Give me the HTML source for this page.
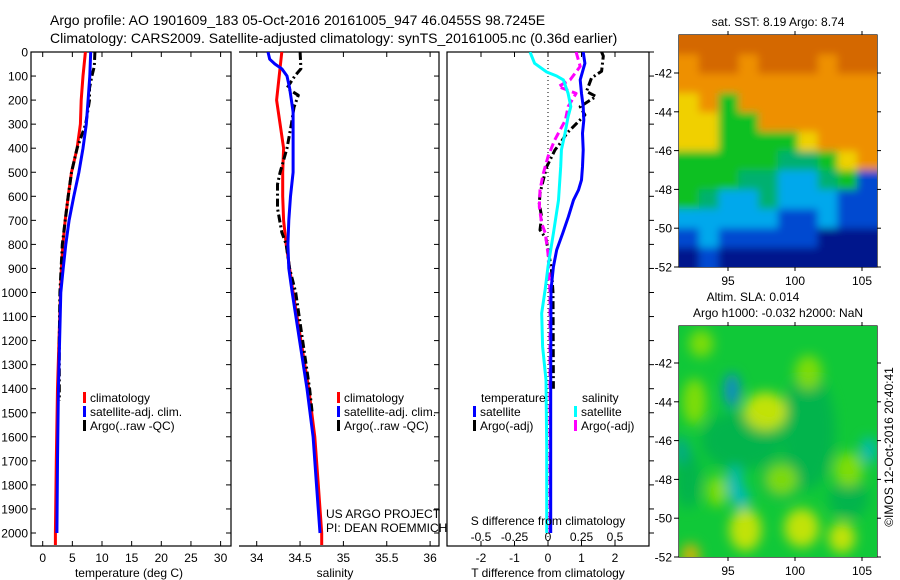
<!DOCTYPE html>
<html><head><meta charset="utf-8">
<style>
html,body{margin:0;padding:0;background:#fff;}
svg{display:block;font-family:"Liberation Sans",sans-serif;}
text{fill:#000;}
</style></head>
<body>
<svg id="fig" width="900" height="580" viewBox="0 0 900 580" xmlns="http://www.w3.org/2000/svg">
<defs>
<filter id="blur1" x="-10%" y="-10%" width="120%" height="120%"><feGaussianBlur stdDeviation="4"/></filter>
<filter id="blur2" x="-30%" y="-30%" width="160%" height="160%"><feGaussianBlur stdDeviation="6"/></filter>
<clipPath id="clipM1"><rect x="679" y="35" width="198" height="232"/></clipPath>
<clipPath id="clipM2"><rect x="679" y="326" width="198" height="231"/></clipPath>
<clipPath id="clipP1"><rect x="31" y="52" width="200" height="494"/></clipPath>
<clipPath id="clipP2"><rect x="239" y="52" width="200" height="494"/></clipPath>
<clipPath id="clipP3"><rect x="447" y="52" width="202" height="494"/></clipPath>
</defs>
<text x="50" y="25" font-size="14">Argo profile: AO 1901609_183 05-Oct-2016 20161005_947 46.0455S 98.7245E</text>
<text x="50" y="43" font-size="14">Climatology: CARS2009. Satellite-adjusted climatology: synTS_20161005.nc (0.36d earlier)</text>
<g id="axes"></g>
<g id="p1" clip-path="url(#clipP1)"></g>
<g id="p2" clip-path="url(#clipP2)"></g>
<g id="p3" clip-path="url(#clipP3)"></g>
<g id="m1" clip-path="url(#clipM1)"></g>
<g id="m2" clip-path="url(#clipM2)"></g>
<g id="labels"></g>
</svg>
<script>
// ---------------- data ----------------
const depthTicks=[0,100,200,300,400,500,600,700,800,900,1000,1100,1200,1300,1400,1500,1600,1700,1800,1900,2000];
const tempTicks=[0,5,10,15,20,25,30];
const salTicks=[34,34.5,35,35.5,36];
const tdiffTicks=[-2,-1,0,1,2];
const sdiffTicks=[-0.5,-0.25,0,0.25,0.5];
const latTicks=[-42,-44,-46,-48,-50,-52];
const lonTicks=[95,100,105];

const tClimDepth=[0,100,200,300,400,500,600,700,800,900,1000,1400,1700,2000,2050];
const tClim=[7.2,6.8,6.5,6.35,5.8,4.85,4.3,3.8,3.4,3.15,3.0,2.5,2.3,2.15,2.15];
const tSatDepth=[0,100,200,300,400,500,600,700,800,900,1000,1400,1700,2000];
const tSat=[8.1,7.95,7.65,7.35,6.8,6.1,5.25,4.45,3.9,3.45,3.05,2.65,2.5,2.4];
const tArgoDepth=[0,60,100,150,200,300,400,500,600,700,800,900,1000,1200,1450];
const tArgo=[8.8,8.7,8.3,7.9,7.9,7.25,5.8,4.85,4.3,3.8,3.3,3.1,2.9,2.8,2.8];

const sClimDepth=[0,100,200,300,400,500,600,700,800,900,1000,1400,1600,1800,2000,2050];
const sClim=[34.29,34.26,34.23,34.27,34.31,34.30,34.30,34.31,34.34,34.38,34.42,34.60,34.67,34.71,34.75,34.75];
const sSatDepth=[0,30,50,70,100,150,200,250,300,500,600,700,800,900,1000,1400,1600,1800,2000];
const sSat=[34.13,34.15,34.21,34.29,34.35,34.38,34.40,34.42,34.42,34.42,34.39,34.37,34.36,34.37,34.41,34.58,34.65,34.69,34.73];
const sArgoDepth=[0,70,100,150,180,230,300,400,450,500,550,650,750,800,900,1000,1400,1500];
const sArgo=[34.50,34.51,34.44,34.35,34.48,34.43,34.40,34.35,34.31,34.27,34.24,34.24,34.29,34.34,34.38,34.45,34.61,34.64];

const tdSatDepth=[0,47,116,172,227,283,338,407,477,532,574,616,685,754,823,893,989,1400,2000];
const tdSat=[1.05,1.10,0.96,1.0,1.05,1.07,1.03,1.05,1.03,1.0,0.91,0.76,0.61,0.44,0.26,0.16,0.09,0.08,0.08];
const tdArgoDepth=[0,17,80,108,164,185,227,262,296,338,380,407,477,532,588,630,685,740,775,900,1000,1400];
const tdArgo=[1.6,1.65,1.6,1.3,1.15,1.43,0.96,1.1,0.86,0.56,0.36,0.21,-0.04,-0.14,-0.24,-0.26,-0.19,-0.24,-0.06,0.1,0.15,0.16];
const sdSatDepth=[0,47,83,100,116,172,227,269,338,407,477,616,754,893,989,1086,1225,1364,1641,2000];
const sdSat=[-0.134,-0.10,-0.01,0.065,0.115,0.15,0.17,0.15,0.127,0.10,0.095,0.078,0.04,0.0,-0.022,-0.047,-0.04,-0.015,-0.01,-0.01];
const sdArgoDepth=[0,60,116,144,172,227,283,366,435,505,574,643,713,754,838,1000,1500,2000];
const sdArgo=[0.21,0.24,0.165,0.077,0.21,0.15,0.13,0.05,0.0,-0.035,-0.06,-0.065,-0.047,-0.02,0.0,0.015,0.015,0.015];

// SST map rows (top to bottom) color codes
const sstRows=["DDDDDDDDDD","ODDODDDODD","OOOOOOOOOO","YOGOOOOOOO","YYGGOOOOOO","YYGGGGYOOO","GGGGGTTGYO","GGGTTCCTGB","GTCCTCCCBB","CCCCCBBCBB","BCBBBBBNNN","NBNNNNNNNN"];
// SLA blobs: lon, lat, radius-lon, radius-lat, code
const slaLon=[97.8,92.5,96.3,100.5,103.5,92.2,94.2,104,101,99,95.3,95.5,105.5,91.5,96,93];
const slaLat=[-44.5,-44,-50.6,-50.5,-51,-51.9,-48.6,-47.5,-42.5,-48,-43.4,-48.2,-46.5,-46.5,-49,-41];
const slaRx=[1.6,0.9,1.2,1.3,1.0,0.7,0.8,1.1,1.0,1.2,0.6,0.6,0.6,0.6,0.6,0.9];
const slaRy=[1.0,1.2,1.1,1.0,0.8,0.6,0.8,0.9,0.9,0.8,0.9,0.9,0.7,0.7,0.6,0.7];
const slaCode=["Y","L","Y","Y","Y","O","L","L","L","L","B","C","C","T","C","L"];

// ---------------- scales ----------------
const yD=d=>52+d*0.2405;
const p1x=t=>42.7+t*5.93;
const p2x=s=>256.7+(s-34)*86.7;
const p3x=t=>548+t*33.5;
const p3s=s=>548+s*4*33.5;
const m1x=lon=>728+(lon-95)*13.4;
const m1y=lat=>73+(-42-lat)*19.4;
const m2y=lat=>363+(-42-lat)*19.4;

const NS="http://www.w3.org/2000/svg";
function mk(tag,parent,attrs){const e=document.createElementNS(NS,tag);for(const k in attrs)e.setAttribute(k,attrs[k]);parent.appendChild(e);return e;}
function txt(parent,x,y,s,size,anchor){const e=mk('text',parent,{x:x,y:y,'font-size':size||12,'text-anchor':anchor||'start'});e.textContent=s;return e;}
const axes=document.getElementById('axes');
const labels=document.getElementById('labels');

let f;
f=mk('rect',axes,{x:31,y:52,width:200,height:494,fill:'none',stroke:'#000','stroke-width':1.2});


f=mk('path',axes,{d:'M239,52 H439 V546 H239',fill:'none',stroke:'#000','stroke-width':1.2});


f=mk('rect',axes,{x:447,y:52,width:202,height:494,fill:'none',stroke:'#000','stroke-width':1.2});



depthTicks.forEach(d=>{
  const y=yD(d);
  let l=txt(axes,28,y+4.5,String(d),12,'end');
  
  
  mk('line',axes,{x1:31,x2:36,y1:y,y2:y,stroke:'#000'});
  mk('line',axes,{x1:226,x2:231,y1:y,y2:y,stroke:'#000'});
  mk('line',axes,{x1:434,x2:439,y1:y,y2:y,stroke:'#000'});
  mk('line',axes,{x1:649,x2:654,y1:y,y2:y,stroke:'#000'});
});
tempTicks.forEach(t=>{
  const x=p1x(t);
  mk('line',axes,{x1:x,x2:x,y1:52,y2:57,stroke:'#000'});
  mk('line',axes,{x1:x,x2:x,y1:541,y2:546,stroke:'#000'});
  let l=txt(axes,x,562,String(t),12,'middle');
  
  
});
salTicks.forEach(s=>{
  const x=p2x(s);
  mk('line',axes,{x1:x,x2:x,y1:52,y2:57,stroke:'#000'});
  mk('line',axes,{x1:x,x2:x,y1:541,y2:546,stroke:'#000'});
  let l=txt(axes,x,562,String(s),12,'middle');
  
  
});
tdiffTicks.forEach(t=>{
  const x=p3x(t);
  mk('line',axes,{x1:x,x2:x,y1:52,y2:57,stroke:'#000'});
  mk('line',axes,{x1:x,x2:x,y1:541,y2:546,stroke:'#000'});
  let l=txt(axes,x,562,String(t),12,'middle');
  
  
});
sdiffTicks.forEach(s=>{
  let l=txt(axes,p3s(s),541,String(s),12,'middle');
  
  
});
let t;
t=txt(labels,129,577,'temperature (deg C)',12,'middle');


t=txt(labels,335,577,'salinity',12,'middle');


t=txt(labels,548,577,'T difference from climatology',12,'middle');


t=txt(labels,548,525,'S difference from climatology',12,'middle');


t=txt(labels,326,518,'US ARGO PROJECT',12);


t=txt(labels,326,532,'PI: DEAN ROEMMICH',12);



f=mk('line',axes,{x1:548,x2:548,y1:52,y2:546,stroke:'#000','stroke-dasharray':'1,3'});



function series(g,xs,ds,fx,color,dash,name){
  const pts=xs.map((v,i)=>fx(v).toFixed(1)+','+yD(ds[i]).toFixed(1)).join(' ');
  const p=mk('polyline',g,{points:pts,fill:'none',stroke:color,'stroke-width':3,'stroke-linejoin':'round'});
  if(dash)p.setAttribute('stroke-dasharray',dash);
  
  
}
const p1=document.getElementById('p1'),p2=document.getElementById('p2'),p3=document.getElementById('p3');
series(p1,tClim,tClimDepth,p1x,'#ff0000',null,'temperature-climatology-line');
series(p1,tArgo,tArgoDepth,p1x,'#000000','8,3,2,3','temperature-argo-line');
series(p1,tSat,tSatDepth,p1x,'#0000ff',null,'temperature-satellite-line');
series(p2,sClim,sClimDepth,p2x,'#ff0000',null,'salinity-climatology-line');
series(p2,sArgo,sArgoDepth,p2x,'#000000','8,3,2,3','salinity-argo-line');
series(p2,sSat,sSatDepth,p2x,'#0000ff',null,'salinity-satellite-line');
series(p3,tdArgo,tdArgoDepth,p3x,'#000000','8,3,2,3','t-difference-argo-line');
series(p3,sdArgo,sdArgoDepth,p3s,'#ff00ff','8,4','s-difference-argo-line');
series(p3,sdSat,sdSatDepth,p3s,'#00ffff',null,'s-difference-satellite-line');
series(p3,tdSat,tdSatDepth,p3x,'#0000ff',null,'t-difference-satellite-line');

function legItem(x,y,color,label,name){
  const g=mk('g',labels,{});
  
  
  mk('rect',g,{x:x,y:y-10,width:3,height:11,fill:color});
  txt(g,x+7,y,label,12);
}
legItem(83,402,'#ff0000','climatology','legend-climatology');
legItem(83,416,'#0000ff','satellite-adj. clim.','legend-satellite-adj');
legItem(83,430,'#000000','Argo(..raw -QC)','legend-argo');
legItem(337,402,'#ff0000','climatology','legend-climatology-2');
legItem(337,416,'#0000ff','satellite-adj. clim.','legend-satellite-adj-2');
legItem(337,430,'#000000','Argo(..raw -QC)','legend-argo-2');
t=txt(labels,481,402,'temperature',12);


t=txt(labels,582,402,'salinity',12);


legItem(473,416,'#0000ff','satellite','legend-t-satellite');
legItem(473,430,'#000000','Argo(-adj)','legend-t-argo');
legItem(574,416,'#00ffff','satellite','legend-s-satellite');
legItem(574,430,'#ff00ff','Argo(-adj)','legend-s-argo');

// ---------------- maps ----------------
const sstColor={D:'#d46800',O:'#ee9000',Y:'#f0d000',G:'#10c020',T:'#00b070',C:'#00a8ec',B:'#0048d0',N:'#00188c'};
const m1=document.getElementById('m1');
const gs=mk('g',m1,{filter:'url(#blur1)'});


mk('rect',gs,{x:670,y:25,width:220,height:255,fill:'#ee9000'});
const cw=198/10,ch=232/12;
sstRows.forEach((row,r)=>{
  [...row].forEach((c,k)=>{
    const cell=mk('rect',gs,{x:(679+k*cw-(k==0?10:0)).toFixed(1),y:(35+r*ch-(r==0?10:0)).toFixed(1),width:(cw+1+(k==0||k==9?10:0)).toFixed(1),height:(ch+1+(r==0||r==11?10:0)).toFixed(1),fill:sstColor[c]});
    
    
  });
});
const slaColor={Y:'#e0e800',L:'#90e000',O:'#f0b000',B:'#1080e0',C:'#00b8c8',T:'#00a890'};
const m2=document.getElementById('m2');
const g2=mk('g',m2,{});


mk('rect',g2,{x:679,y:326,width:198,height:231,fill:'#10c838'});
const gb=mk('g',g2,{filter:'url(#blur2)','fill-opacity':0.85});
[[96,-46,3,1.5],[101,-45.5,2,3],[99,-48,1.5,1],[92,-48,1,1.5],[104,-49,1.5,1]].forEach(b=>{
  mk('ellipse',gb,{cx:m1x(b[0]),cy:m2y(b[1]),rx:b[2]*13.4,ry:b[3]*19.4,fill:'#00b050'});
});
slaLon.forEach((lon,i)=>{
  const e=mk('ellipse',gb,{cx:m1x(lon).toFixed(1),cy:m2y(slaLat[i]).toFixed(1),rx:(slaRx[i]*13.4).toFixed(1),ry:(slaRy[i]*19.4).toFixed(1),fill:slaColor[slaCode[i]]});
  
  
});

[[35,m1y,'sst'],[326,m2y,'sla']].forEach(([top,fy,nm])=>{
  const h=nm==='sst'?232:231;
  const fr=mk('rect',axes,{x:679,y:top,width:198,height:h,fill:'none',stroke:'#000','stroke-width':1.2});
  
  
  latTicks.forEach(l=>{
    const y=fy(l);
    mk('line',axes,{x1:674,x2:679,y1:y,y2:y,stroke:'#000'});
    mk('line',axes,{x1:877,x2:881,y1:y,y2:y,stroke:'#000'});
    const tl=txt(axes,672,y+4.5,String(l),12,'end');
    
    
  });
  lonTicks.forEach(l=>{
    const x=m1x(l);
    mk('line',axes,{x1:x,x2:x,y1:top-4,y2:top,stroke:'#000'});
    mk('line',axes,{x1:x,x2:x,y1:top+h,y2:top+h+4,stroke:'#000'});
    const tl=txt(axes,x,top+h+18,String(l),12,'middle');
    
    
  });
});
t=txt(labels,778,26,'sat. SST: 8.19 Argo: 8.74',12,'middle');


t=txt(labels,753,301,'Altim. SLA: 0.014',12,'middle');


t=txt(labels,778,317,'Argo h1000: -0.032 h2000: NaN',12,'middle');


t=txt(labels,0,0,'©IMOS 12-Oct-2016 20:40:41',12,'middle');
t.setAttribute('transform','translate(893,447) rotate(-90)');


</script>
</body></html>
